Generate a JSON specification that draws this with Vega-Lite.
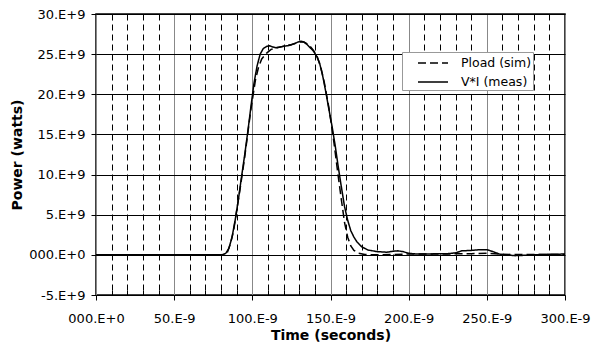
{
  "$schema": "https://vega.github.io/schema/vega-lite/v6.json",
  "width": 469,
  "height": 281,
  "autosize": {"type": "none"},
  "padding": {"left": 96, "top": 14, "right": 29, "bottom": 52},
  "background": "white",
  "config": {
    "font": "DejaVu Sans",
    "view": {"stroke": "black", "strokeWidth": 1.5}
  },
  "data": {
    "values": [
      {"series": "Pload (sim)", "t": 0, "p": 0},
      {"series": "Pload (sim)", "t": 80, "p": 0},
      {"series": "Pload (sim)", "t": 82, "p": 0.05},
      {"series": "Pload (sim)", "t": 84, "p": 0.3},
      {"series": "Pload (sim)", "t": 86, "p": 1.4},
      {"series": "Pload (sim)", "t": 88, "p": 3.0},
      {"series": "Pload (sim)", "t": 90, "p": 5.5},
      {"series": "Pload (sim)", "t": 92, "p": 8.0},
      {"series": "Pload (sim)", "t": 95, "p": 12.0},
      {"series": "Pload (sim)", "t": 99, "p": 18.0},
      {"series": "Pload (sim)", "t": 102, "p": 21.8},
      {"series": "Pload (sim)", "t": 104, "p": 23.4},
      {"series": "Pload (sim)", "t": 106, "p": 24.4},
      {"series": "Pload (sim)", "t": 109, "p": 25.1},
      {"series": "Pload (sim)", "t": 112, "p": 25.6},
      {"series": "Pload (sim)", "t": 116, "p": 25.8},
      {"series": "Pload (sim)", "t": 120, "p": 26.0},
      {"series": "Pload (sim)", "t": 125, "p": 26.2},
      {"series": "Pload (sim)", "t": 130, "p": 26.5},
      {"series": "Pload (sim)", "t": 133, "p": 26.5},
      {"series": "Pload (sim)", "t": 136, "p": 26.2},
      {"series": "Pload (sim)", "t": 139, "p": 25.5},
      {"series": "Pload (sim)", "t": 141.5, "p": 24.7},
      {"series": "Pload (sim)", "t": 144, "p": 23.2},
      {"series": "Pload (sim)", "t": 146, "p": 21.5},
      {"series": "Pload (sim)", "t": 149, "p": 18.3},
      {"series": "Pload (sim)", "t": 152, "p": 14.3},
      {"series": "Pload (sim)", "t": 155, "p": 9.7},
      {"series": "Pload (sim)", "t": 157, "p": 6.8},
      {"series": "Pload (sim)", "t": 159, "p": 4.0},
      {"series": "Pload (sim)", "t": 161, "p": 2.2},
      {"series": "Pload (sim)", "t": 163, "p": 1.1},
      {"series": "Pload (sim)", "t": 165, "p": 0.55},
      {"series": "Pload (sim)", "t": 168, "p": 0.2},
      {"series": "Pload (sim)", "t": 172, "p": 0.05},
      {"series": "Pload (sim)", "t": 178, "p": 0},
      {"series": "Pload (sim)", "t": 190, "p": 0.05},
      {"series": "Pload (sim)", "t": 200, "p": 0.1},
      {"series": "Pload (sim)", "t": 220, "p": 0.1},
      {"series": "Pload (sim)", "t": 240, "p": 0.15},
      {"series": "Pload (sim)", "t": 250, "p": 0.2},
      {"series": "Pload (sim)", "t": 258, "p": 0.1},
      {"series": "Pload (sim)", "t": 265, "p": 0.05},
      {"series": "Pload (sim)", "t": 300, "p": 0.05},
      {"series": "V*I (meas)", "t": 0, "p": 0},
      {"series": "V*I (meas)", "t": 81, "p": 0},
      {"series": "V*I (meas)", "t": 83, "p": 0.2},
      {"series": "V*I (meas)", "t": 85, "p": 0.8},
      {"series": "V*I (meas)", "t": 87, "p": 2.2},
      {"series": "V*I (meas)", "t": 89, "p": 4.3},
      {"series": "V*I (meas)", "t": 91, "p": 6.8},
      {"series": "V*I (meas)", "t": 93, "p": 9.6},
      {"series": "V*I (meas)", "t": 95, "p": 12.3},
      {"series": "V*I (meas)", "t": 97, "p": 15.2},
      {"series": "V*I (meas)", "t": 99, "p": 18.3},
      {"series": "V*I (meas)", "t": 101, "p": 21.3},
      {"series": "V*I (meas)", "t": 103, "p": 23.5},
      {"series": "V*I (meas)", "t": 105, "p": 25.0},
      {"series": "V*I (meas)", "t": 107, "p": 25.7},
      {"series": "V*I (meas)", "t": 109, "p": 25.95},
      {"series": "V*I (meas)", "t": 111, "p": 26.05},
      {"series": "V*I (meas)", "t": 113, "p": 25.9},
      {"series": "V*I (meas)", "t": 115, "p": 25.8},
      {"series": "V*I (meas)", "t": 118, "p": 25.9},
      {"series": "V*I (meas)", "t": 121, "p": 26.0},
      {"series": "V*I (meas)", "t": 124, "p": 26.1},
      {"series": "V*I (meas)", "t": 127, "p": 26.3},
      {"series": "V*I (meas)", "t": 129, "p": 26.5},
      {"series": "V*I (meas)", "t": 131, "p": 26.6},
      {"series": "V*I (meas)", "t": 133, "p": 26.5},
      {"series": "V*I (meas)", "t": 135, "p": 26.2},
      {"series": "V*I (meas)", "t": 137, "p": 25.8},
      {"series": "V*I (meas)", "t": 139, "p": 25.4},
      {"series": "V*I (meas)", "t": 141, "p": 24.8},
      {"series": "V*I (meas)", "t": 143, "p": 23.9},
      {"series": "V*I (meas)", "t": 145, "p": 22.3},
      {"series": "V*I (meas)", "t": 147, "p": 20.3},
      {"series": "V*I (meas)", "t": 149, "p": 18.1},
      {"series": "V*I (meas)", "t": 151, "p": 16.0},
      {"series": "V*I (meas)", "t": 153, "p": 13.6},
      {"series": "V*I (meas)", "t": 155, "p": 10.9},
      {"series": "V*I (meas)", "t": 157, "p": 8.4},
      {"series": "V*I (meas)", "t": 159, "p": 6.0},
      {"series": "V*I (meas)", "t": 161, "p": 4.3},
      {"series": "V*I (meas)", "t": 163, "p": 3.0},
      {"series": "V*I (meas)", "t": 165, "p": 2.2},
      {"series": "V*I (meas)", "t": 167, "p": 1.6},
      {"series": "V*I (meas)", "t": 170, "p": 1.0},
      {"series": "V*I (meas)", "t": 174, "p": 0.6},
      {"series": "V*I (meas)", "t": 180, "p": 0.4},
      {"series": "V*I (meas)", "t": 186, "p": 0.33},
      {"series": "V*I (meas)", "t": 190, "p": 0.45},
      {"series": "V*I (meas)", "t": 193, "p": 0.5},
      {"series": "V*I (meas)", "t": 196, "p": 0.42},
      {"series": "V*I (meas)", "t": 200, "p": 0.2},
      {"series": "V*I (meas)", "t": 205, "p": 0.1},
      {"series": "V*I (meas)", "t": 215, "p": 0.12},
      {"series": "V*I (meas)", "t": 225, "p": 0.15},
      {"series": "V*I (meas)", "t": 230, "p": 0.25},
      {"series": "V*I (meas)", "t": 234, "p": 0.5},
      {"series": "V*I (meas)", "t": 240, "p": 0.55},
      {"series": "V*I (meas)", "t": 246, "p": 0.65},
      {"series": "V*I (meas)", "t": 250, "p": 0.65},
      {"series": "V*I (meas)", "t": 254, "p": 0.4},
      {"series": "V*I (meas)", "t": 258, "p": 0.1},
      {"series": "V*I (meas)", "t": 262, "p": 0},
      {"series": "V*I (meas)", "t": 268, "p": -0.1},
      {"series": "V*I (meas)", "t": 275, "p": -0.05},
      {"series": "V*I (meas)", "t": 285, "p": 0.05},
      {"series": "V*I (meas)", "t": 300, "p": 0.1}
    ]
  },
  "mark": {"type": "line", "color": "black", "strokeWidth": 1.5, "clip": true},
  "encoding": {
    "x": {
      "field": "t",
      "type": "quantitative",
      "scale": {"domain": [0, 300], "nice": false, "zero": false},
      "axis": {
        "title": "Time (seconds)",
        "titleFont": "DejaVu Sans",
        "titleFontSize": 14,
        "titleFontWeight": "bold",
        "titleColor": "black",
        "titlePadding": 3,
        "values": [0, 10, 20, 30, 40, 50, 60, 70, 80, 90, 100, 110, 120, 130, 140, 150, 160, 170, 180, 190, 200, 210, 220, 230, 240, 250, 260, 270, 280, 290, 300],
        "labelExpr": "datum.value % 50 === 0 ? (datum.value === 0 ? '000.E+0' : datum.value + '.E-9') : ''",
        "labelFontSize": 13,
        "labelColor": "black",
        "labelPadding": 12,
        "labelFlush": false,
        "labelOverlap": false,
        "domain": false,
        "tickColor": "black",
        "tickSize": {"condition": {"test": "datum.value % 50 === 0", "value": 5}, "value": -5},
        "grid": true,
        "gridColor": {"condition": {"test": "datum.value % 50 === 0", "value": "#888888"}, "value": "black"},
        "gridDash": {"condition": {"test": "datum.value % 50 === 0", "value": []}, "value": [6, 4]},
        "gridWidth": 1,
        "gridOpacity": 1
      }
    },
    "y": {
      "field": "p",
      "type": "quantitative",
      "scale": {"domain": [-5, 30], "nice": false, "zero": false},
      "axis": {
        "title": "Power (watts)",
        "titleFont": "DejaVu Sans",
        "titleFontSize": 14,
        "titleFontWeight": "bold",
        "titleColor": "black",
        "titlePadding": 4,
        "values": [-5, 0, 5, 10, 15, 20, 25, 30],
        "labelExpr": "datum.value === 0 ? '000.E+0' : datum.value + '.E+9'",
        "labelFontSize": 13,
        "labelColor": "black",
        "labelPadding": 6,
        "labelFlush": false,
        "labelOverlap": false,
        "domain": false,
        "tickColor": "black",
        "tickSize": 5,
        "grid": true,
        "gridColor": "black",
        "gridWidth": 1,
        "gridOpacity": 1
      }
    },
    "strokeDash": {
      "field": "series",
      "type": "nominal",
      "scale": {"domain": ["Pload (sim)", "V*I (meas)"], "range": [[8, 4], [1, 0]]},
      "legend": {
        "title": null,
        "orient": "none",
        "legendX": 306,
        "legendY": 38,
        "fillColor": "white",
        "strokeColor": "#999999",
        "padding": 1,
        "symbolType": "M-2.333,0H1",
        "symbolSize": 324,
        "symbolOffset": 26,
        "symbolStrokeWidth": 1.5,
        "symbolStrokeColor": "black",
        "symbolFillColor": "transparent",
        "labelFontSize": 12.5,
        "labelColor": "black",
        "labelOffset": 12,
        "rowPadding": 2,
        "offset": 0
      }
    }
  }
}
